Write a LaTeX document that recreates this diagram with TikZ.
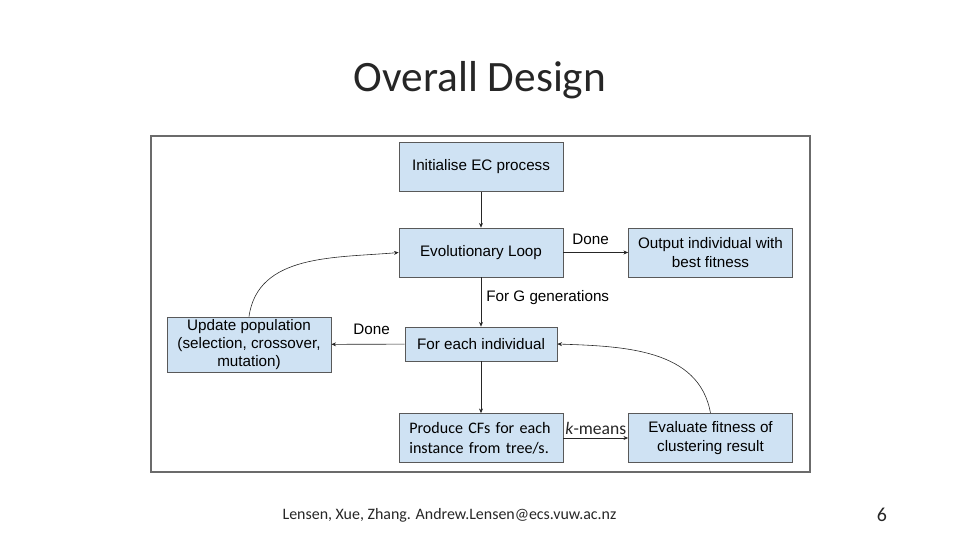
\documentclass[tikz,border=0pt]{standalone}
\usepackage{fontspec}
\setmainfont{Carlito}
\newfontfamily\arialf{Liberation Sans}
\usepackage{xcolor}
\usetikzlibrary{positioning,calc,arrows.meta}
\definecolor{boxfill}{HTML}{CFE2F3}
\definecolor{boxline}{HTML}{595959}
\definecolor{framec}{HTML}{6B6B6B}
\tikzset{
  stepbox/.style={draw=boxline,fill=boxfill,line width=0.6pt,inner sep=2pt,align=center,
    minimum width=4.92cm,minimum height=1.47cm,font=\arialf\fontsize{13}{15.5}\selectfont},
  flow/.style={-{Stealth[length=4pt,width=3.4pt]},line width=0.5pt,black!85},
  lbl/.style={font=\arialf\fontsize{13}{15.5}\selectfont,text=black}
}
\begin{document}
\begin{tikzpicture}[x=0.03cm,y=-0.03cm]
  \useasboundingbox (0,0) rectangle (960,540);
  \node[font=\fontsize{37}{42}\selectfont,text=black!85] (title) at (480,80) {Overall Design};
  \draw[framec,line width=1.3pt] (151,136) rectangle (810,472);
  \node[stepbox] (init) at (481,167) {Initialise EC process};
  \node[stepbox] (evo) at (481,252.5) {Evolutionary Loop};
  \node[stepbox] (out) at (710.5,252.5) {Output individual with\\best fitness};
  \node[stepbox,minimum height=1.65cm] (upd) at (249,344.5) {Update population\\(selection, crossover,\\mutation)};
  \node[stepbox,minimum width=4.56cm,minimum height=1.02cm] (each) at (481,344) {For each individual};
  \node[stepbox,align=left,text width=4.3cm,inner xsep=0.3cm,font=\fontsize{13.7}{17}\selectfont] (cfs) at (481,438) {Produce CFs for each\\instance from tree/s.};
  \node[stepbox] (eval) at (710.5,438) {Evaluate fitness of\\clustering result};
  \draw[flow] (init) -- (evo);
  \draw[flow] (evo) -- node[lbl,above=3pt,pos=0.42]{Done} (out);
  \draw[flow] (evo) -- node[lbl,right=1pt,pos=0.4]{For G generations} (each);
  \draw[flow] (each) -- node[lbl,above=5pt,pos=0.45]{Done} (upd);
  \draw[flow] (each) -- (cfs);
  \draw[flow] (cfs) -- node[above=-1pt,font=\fontsize{15}{17}\selectfont]{\textit{k}-means} (eval);
  \draw[flow] (upd.north) to[out=82,in=185] (evo.west);
  \draw[flow] (eval.north) to[out=100,in=-2] (each.east);
  \node[font=\fontsize{13.6}{15}\selectfont,text=black!85] (foot) at (449.5,515) {Lensen, Xue, Zhang. Andrew.Lensen@ecs.vuw.ac.nz};
  \node[font=\fontsize{17}{20}\selectfont,text=black!85] (page) at (882,515) {6};
\end{tikzpicture}
\end{document}
